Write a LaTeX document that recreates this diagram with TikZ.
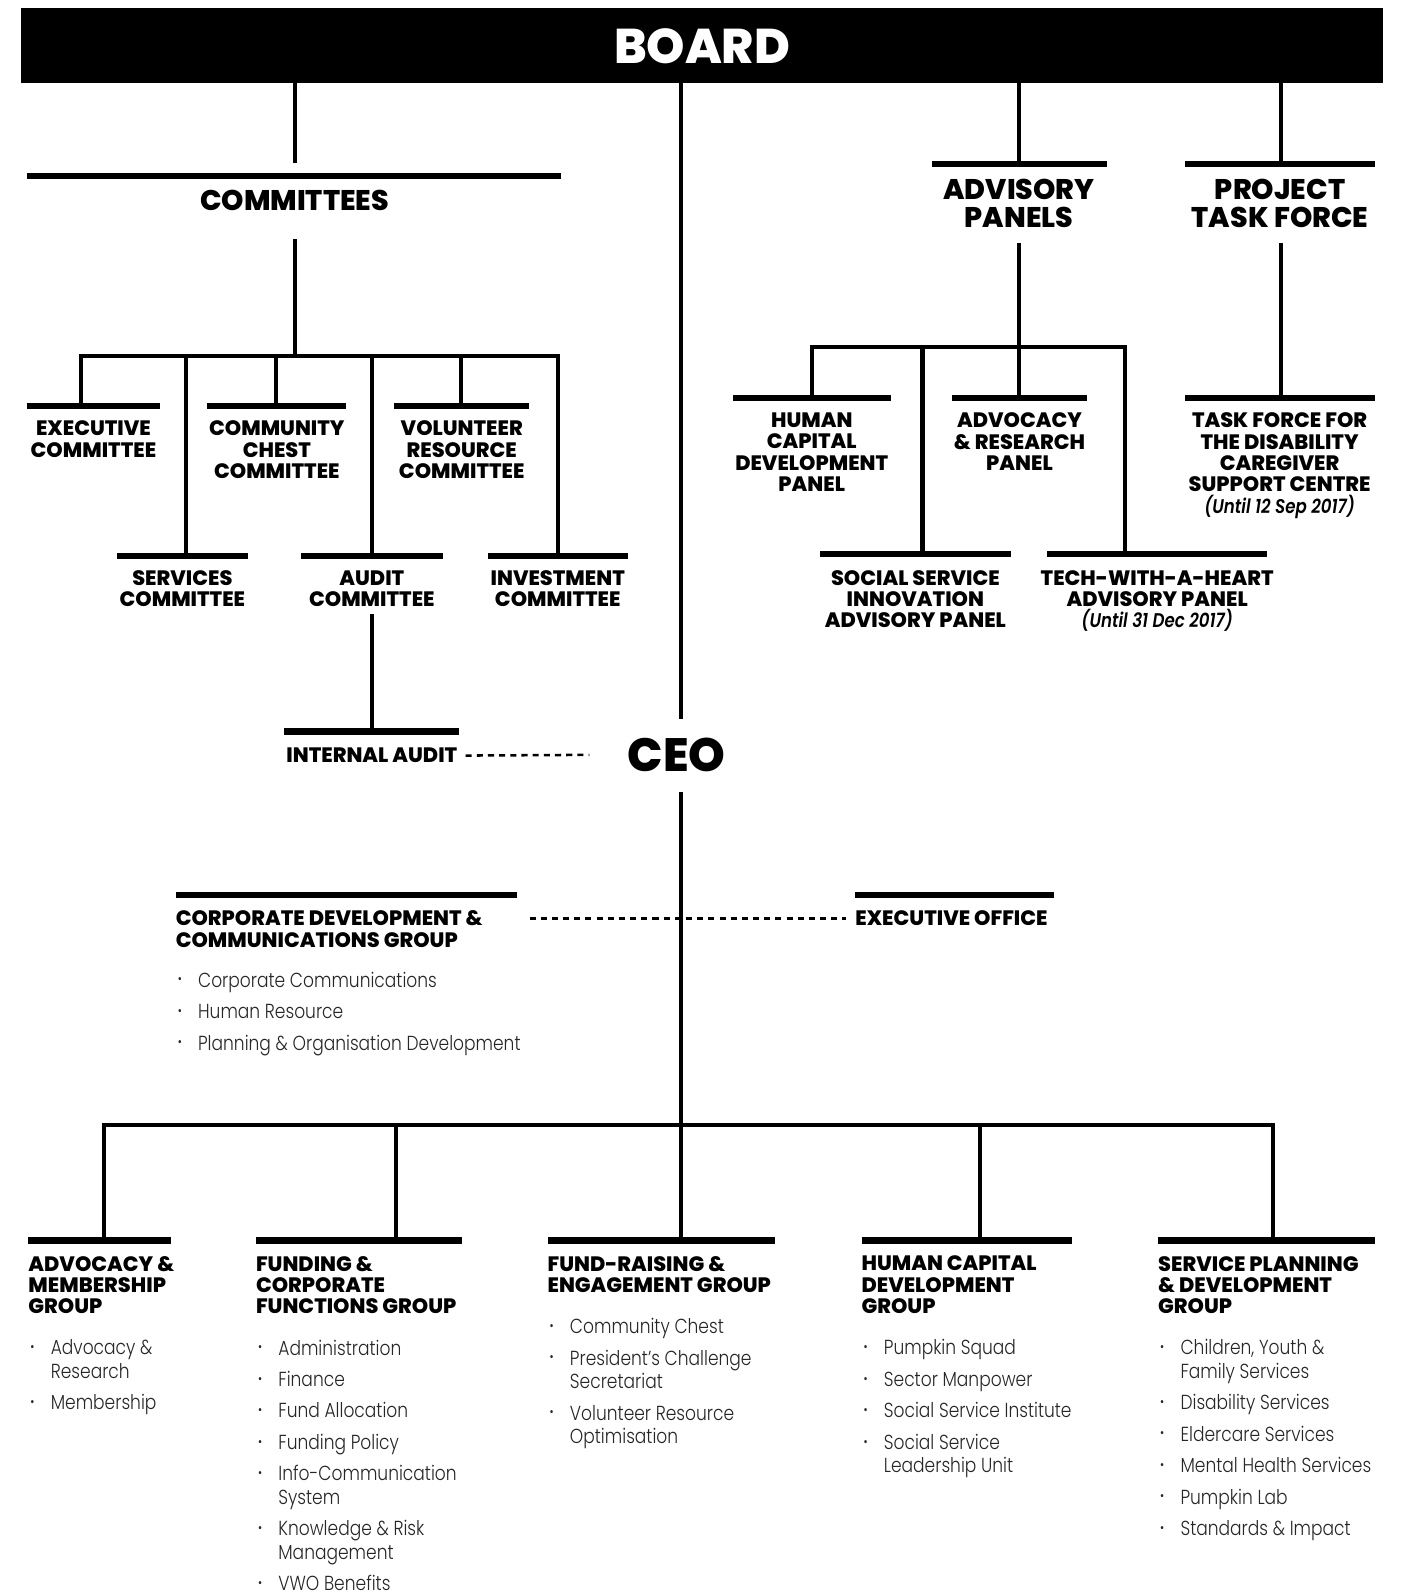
\documentclass[tikz,border=0pt]{standalone}
\usepackage{fontspec}
\usetikzlibrary{positioning,calc}
\IfFontExistsTF{Poppins ExtraBold}
  {\newfontfamily\headfont{Poppins}[BoldFont=* ExtraBold]}
  {\newfontfamily\headfont{Poppins}}
\IfFontExistsTF{Poppins Light}
  {\newfontfamily\listfont{Poppins Light}[FakeStretch=0.84]}
  {\newfontfamily\listfont{Poppins}[FakeStretch=0.84]}
\newcommand\bul{\makebox[20pt][l]{\raisebox{0.3ex}{\fontsize{13}{13}\selectfont\textbullet}}}
\newcommand\cont{\hspace*{20pt}}
\newcommand\notefont{\listfont\itshape\fontsize{19.5}{21}\selectfont}
\tikzset{
  link/.style={line width=4pt, line cap=rect},
  capbar/.style={fill=black, inner sep=0pt, minimum height=6pt, minimum width=#1},
  dots/.style={line width=2.5pt, dash pattern=on 6pt off 5pt},
  unit/.style={font=\headfont\bfseries\fontsize{20.5}{21}\selectfont, inner sep=0pt, align=center},
  group/.style={unit, align=left, anchor=north west},
  title/.style={font=\headfont\bfseries\fontsize{28}{28}\selectfont, inner sep=0pt, align=center},
  items/.style={font=\listfont\fontsize{20}{23}\selectfont, text=black!85, inner sep=0pt, align=left, anchor=north west}
}
\begin{document}
\begin{tikzpicture}[x=1pt,y=-1pt]
\useasboundingbox (0,0) rectangle (1382,1568);

\node[fill=black, minimum width=1340pt, minimum height=74pt, inner sep=0pt, text=white,
  font=\headfont\bfseries\fontsize{48}{48}\selectfont] (board) at (691,45) {BOARD};

% committees
\node[capbar=525] (combar) at (289.5,173) {};
\node[title] (committees) at (290,197) {COMMITTEES};
\coordinate (comup) at (290,158);
\coordinate (comdown) at (290,237);
\coordinate (combus) at (290,350);
\node[capbar=130] (execbar) at (92,400) {};
\node[capbar=137] (chestbar) at (272.5,400) {};
\node[capbar=133] (volbar) at (454.5,400) {};
\node[capbar=129] (servbar) at (179.5,547) {};
\node[capbar=140] (auditbar) at (366,547) {};
\node[capbar=138] (investbar) at (549,547) {};
\node[unit, below=11pt of execbar] (execcom) {EXECUTIVE\\COMMITTEE};
\node[unit, below=11pt of chestbar] (chestcom) {COMMUNITY\\CHEST\\COMMITTEE};
\node[unit, below=11pt of volbar] (volcom) {VOLUNTEER\\RESOURCE\\COMMITTEE};
\node[unit, below=11pt of servbar] (servcom) {SERVICES\\COMMITTEE};
\node[unit, below=11pt of auditbar] (auditcom) {AUDIT\\COMMITTEE};
\node[unit, below=11pt of investbar] (investcom) {INVESTMENT\\COMMITTEE};
\coordinate (dexec) at (80,350);
\coordinate (dserv) at (183,350);
\coordinate (dchest) at (272,350);
\coordinate (daudit) at (366,350);
\coordinate (dvol) at (454,350);
\coordinate (dinvest) at (549,350);
\draw[link] (board.south -| comup) -- (comup);
\draw[link] (comdown) -- (combus);
\draw[link] (dexec) -- (dinvest);
\foreach \d/\b in {dexec/execbar, dserv/servbar, dchest/chestbar, daudit/auditbar, dvol/volbar, dinvest/investbar}
  \draw[link] (\d) -- (\d |- \b.north);

% internal audit and ceo
\node[capbar=172] (iabar) at (366,720) {};
\node[unit, below=13pt of iabar] (ia) {INTERNAL AUDIT};
\draw[link] ([yshift=-9pt]auditcom.south) -- (iabar.north);
\node[font=\headfont\bfseries\fontsize{46}{46}\selectfont, inner sep=0pt] (ceo) at (666,743) {CEO};
\coordinate (iadots) at (580,743);
\draw[dots] ($(ia.east)+(8pt,0)$) -- (iadots);

% advisory panels
\node[capbar=173] (advbar) at (1003.5,161) {};
\node[title] (adv) at (1003,200) {ADVISORY\\PANELS};
\coordinate (advup) at (1003,160);
\coordinate (advdown) at (1003,241);
\node[capbar=156] (hcbar) at (799,392) {};
\node[capbar=133] (arbar) at (1003.5,392) {};
\node[capbar=188] (ssbar) at (901,545) {};
\node[capbar=216] (twhbar) at (1139,545) {};
\node[unit, below=11pt of hcbar] (hc) {HUMAN\\CAPITAL\\DEVELOPMENT\\PANEL};
\node[unit, below=11pt of arbar] (ar) {ADVOCACY\\\& RESEARCH\\PANEL};
\node[unit, below=13pt of ssbar] (ss) {SOCIAL SERVICE\\INNOVATION\\ADVISORY PANEL};
\node[unit, below=13pt of twhbar] (twh) {TECH-WITH-A-HEART\\ADVISORY PANEL\\{\notefont (Until 31 Dec 2017)}};
\coordinate (dhc) at (799,342);
\coordinate (dss) at (908,342);
\coordinate (dar) at (1003,342);
\coordinate (dtwh) at (1107,342);
\draw[link] (board.south -| advup) -- (advup);
\draw[link] (advdown) -- (dar);
\draw[link] (dhc) -- (dtwh);
\foreach \d/\b in {dhc/hcbar, dss/ssbar, dar/arbar, dtwh/twhbar}
  \draw[link] (\d) -- (\d |- \b.north);

% project task force
\node[capbar=187] (ptfbar) at (1259.5,161) {};
\node[title] (ptf) at (1260,200) {PROJECT\\TASK FORCE};
\coordinate (ptfup) at (1261,160);
\coordinate (ptfdown) at (1261,241);
\node[capbar=187] (tfbar) at (1259.5,392) {};
\node[unit, below=11pt of tfbar] (tf) {TASK FORCE FOR\\THE DISABILITY\\CAREGIVER\\SUPPORT CENTRE\\{\notefont (Until 12 Sep 2017)}};
\draw[link] (board.south -| ptfup) -- (ptfup);
\draw[link] (ptfdown) -- (ptfdown |- tfbar.north);

% groups under the ceo
\node[capbar=336] (cdcbar) at (341,881) {};
\node[group] (cdc) at ([yshift=-12pt]cdcbar.south west) {CORPORATE DEVELOPMENT \&\\COMMUNICATIONS GROUP};
\node[items] (cdcitems) at ([xshift=2pt,yshift=-24pt]cdc.south west)
  {\bul Corporate Communications\\[8pt]\bul Human Resource\\[8pt]\bul Planning \& Organisation Development};
\node[capbar=195] (eobar) at (939.5,881) {};
\node[group] (eo) at ([yshift=-12pt]eobar.south west) {EXECUTIVE OFFICE};

\node[capbar=140] (amgbar) at (98,1221) {};
\node[capbar=203] (fcfbar) at (353.5,1221) {};
\node[capbar=224] (frbar) at (651,1221) {};
\node[capbar=207] (hcdbar) at (951.5,1221) {};
\node[capbar=213] (spdbar) at (1246.5,1221) {};
\node[group] (amg) at ([yshift=-12pt]amgbar.south west) {ADVOCACY \&\\MEMBERSHIP\\GROUP};
\node[group] (fcf) at ([yshift=-12pt]fcfbar.south west) {FUNDING \&\\CORPORATE\\FUNCTIONS GROUP};
\node[group] (fr) at ([yshift=-12pt]frbar.south west) {FUND-RAISING \&\\ENGAGEMENT GROUP};
\node[group] (hcd) at ([yshift=-12pt]hcdbar.south west) {HUMAN CAPITAL\\DEVELOPMENT\\GROUP};
\node[group] (spd) at ([yshift=-12pt]spdbar.south west) {SERVICE PLANNING\\\& DEVELOPMENT\\GROUP};
\node[items] (amgitems) at ([xshift=2pt,yshift=-25pt]amg.south west)
  {\bul Advocacy \&\\\cont Research\\[8pt]\bul Membership};
\node[items] (fcfitems) at ([xshift=2pt,yshift=-25pt]fcf.south west)
  {\bul Administration\\[8pt]\bul Finance\\[8pt]\bul Fund Allocation\\[8pt]\bul Funding Policy\\[8pt]\bul Info-Communication\\\cont System\\[8pt]\bul Knowledge \& Risk\\\cont Management\\[8pt]\bul VWO Benefits};
\node[items] (fritems) at ([xshift=2pt,yshift=-25pt]fr.south west)
  {\bul Community Chest\\[8pt]\bul President’s Challenge\\\cont Secretariat\\[8pt]\bul Volunteer Resource\\\cont Optimisation};
\node[items] (hcditems) at ([xshift=2pt,yshift=-25pt]hcd.south west)
  {\bul Pumpkin Squad\\[8pt]\bul Sector Manpower\\[8pt]\bul Social Service Institute\\[8pt]\bul Social Service\\\cont Leadership Unit};
\node[items] (spditems) at ([xshift=2pt,yshift=-25pt]spd.south west)
  {\bul Children, Youth \&\\\cont Family Services\\[8pt]\bul Disability Services\\[8pt]\bul Eldercare Services\\[8pt]\bul Mental Health Services\\[8pt]\bul Pumpkin Lab\\[8pt]\bul Standards \& Impact};

\coordinate (ceoup) at (670,706);
\coordinate (ceodown) at (670,782);
\coordinate (damg) at (102,1107);
\coordinate (dfcf) at (390,1107);
\coordinate (dhcd) at (965,1107);
\coordinate (dspd) at (1253,1107);
\draw[link] (board.south -| ceoup) -- (ceoup);
\draw[link] (ceodown) -- (ceodown |- frbar.north);
\draw[link] (damg) -- (dspd);
\foreach \d/\b in {damg/amgbar, dfcf/fcfbar, dhcd/hcdbar, dspd/spdbar}
  \draw[link] (\d) -- (\d |- \b.north);
\draw[dots] ($(cdcbar.east |- eo.west)+(12pt,0)$) -- ($(eo.west)+(-9pt,0)$);
\end{tikzpicture}
\end{document}
